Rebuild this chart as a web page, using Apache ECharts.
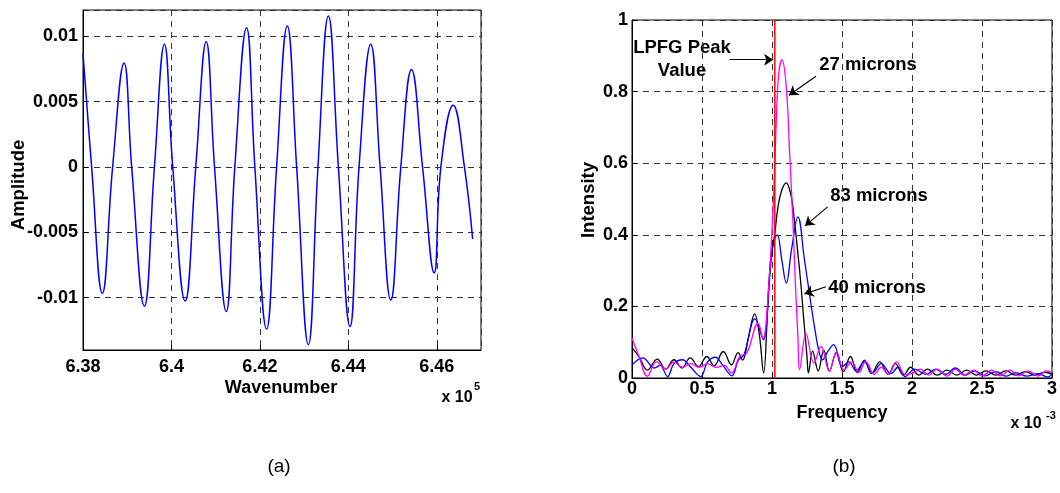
<!DOCTYPE html>
<html><head><meta charset="utf-8">
<script src="https://cdn.jsdelivr.net/npm/echarts@6/dist/echarts.min.js"></script>
<style>html,body{margin:0;padding:0;background:#fff}#c{width:1060px;height:493px}</style>
</head><body><div id="c"></div><script>
// ---------- Panel (a): wavenumber vs amplitude ----------
const WAVENUMBER = [638000,638195,638437,638670,638929,639101,639388,639615,639841,640029,640310,640550,640786,640974,641239,641433,641698,641886,642151,642378,642620,642831,643096,643313,643549,643775,644038,644242,644507,644718,644960,645187,645429,645678,645941,646093,646372,646625,646811];
const AMPLITUDE = [0.00864,0,-0.00967,0,0.00795,0,-0.01064,0,0.00939,0,-0.01026,0,0.00957,0,-0.01106,0,0.01065,0,-0.0124,0,0.01078,0,-0.01359,0,0.01154,0,-0.0122,0,0.00939,0,-0.01018,0,0.00745,0,-0.0081,0,0.00472,0,-0.00551];

// ---------- Panel (b): frequency vs intensity ----------
const MICRONS_40 = [[0,0.084],[0.05,0.06],[0.11,0.022],[0.18,0.053],[0.24,0.025],[0.30,0.051],[0.357,0.028],[0.416,0.056],[0.475,0.032],[0.534,0.06],[0.586,0.034],[0.652,0.074],[0.71,0.037],[0.758,0.071],[0.79,0.05],[0.83,0.11],[0.876,0.179],[0.91,0.12],[0.94,0.014],[0.97,0.2],[0.996,0.34],[1.02,0.404],[1.043,0.478],[1.07,0.525],[1.102,0.545],[1.13,0.52],[1.149,0.478],[1.185,0.348],[1.208,0.255],[1.227,0.163],[1.25,0.06],[1.26,0.014],[1.29,0.075],[1.33,0.02],[1.37,0.078],[1.41,0.02],[1.46,0.07],[1.51,0.018],[1.56,0.06],[1.61,0.015],[1.66,0.05],[1.71,0.012],[1.77,0.045],[1.83,0.01],[1.88,0.04],[1.94,0.008],[1.99,0.03],[2.05,0.008],[2.11,0.025],[2.18,0.008],[2.25,0.022],[2.32,0.008],[2.39,0.022],[2.46,0.008],[2.53,0.02],[2.6,0.008],[2.67,0.02],[2.74,0.008],[2.81,0.018],[2.88,0.008],[2.95,0.016],[3.0,0.01]];
const MICRONS_83 = [[0,0.036],[0.077,0.056],[0.16,0.028],[0.2,0.035],[0.254,0.004],[0.30,0.04],[0.36,0.051],[0.42,0.03],[0.49,0.004],[0.54,0.045],[0.595,0.058],[0.65,0.035],[0.713,0.006],[0.76,0.05],[0.80,0.065],[0.878,0.165],[0.937,0.107],[0.996,0.348],[1.038,0.40],[1.07,0.33],[1.102,0.265],[1.14,0.36],[1.185,0.45],[1.232,0.33],[1.267,0.237],[1.303,0.144],[1.338,0.07],[1.361,0.051],[1.40,0.075],[1.44,0.093],[1.503,0.032],[1.55,0.045],[1.6,0.02],[1.66,0.045],[1.72,0.015],[1.78,0.04],[1.85,0.012],[1.9,0.03],[1.95,0.004],[2.02,0.025],[2.1,0.01],[2.17,0.025],[2.24,0.01],[2.31,0.028],[2.38,0.008],[2.45,0.02],[2.52,0.006],[2.6,0.018],[2.67,0.005],[2.74,0.015],[2.82,0.005],[2.9,0.012],[2.97,0.003],[3.0,0.01]];
const MICRONS_27 = [[0,0.112],[0.05,0.06],[0.11,0.005],[0.175,0.046],[0.24,0.025],[0.30,0.045],[0.36,0.03],[0.42,0.04],[0.48,0.03],[0.54,0.04],[0.6,0.03],[0.66,0.035],[0.71,0.014],[0.77,0.06],[0.82,0.07],[0.90,0.153],[0.935,0.11],[0.975,0.25],[1.008,0.478],[1.031,0.72],[1.048,0.85],[1.071,0.889],[1.102,0.813],[1.126,0.627],[1.149,0.441],[1.168,0.255],[1.185,0.116],[1.197,0.023],[1.243,0.124],[1.30,0.042],[1.35,0.088],[1.41,0.019],[1.46,0.072],[1.515,0.023],[1.57,0.045],[1.62,0.015],[1.67,0.046],[1.73,0.01],[1.78,0.03],[1.83,0.01],[1.89,0.045],[1.95,0.01],[2.0,0.012],[2.06,0.025],[2.12,0.008],[2.18,0.025],[2.25,0.005],[2.31,0.025],[2.37,0.008],[2.44,0.022],[2.5,0.005],[2.57,0.022],[2.63,0.006],[2.7,0.022],[2.76,0.006],[2.83,0.02],[2.9,0.005],[2.96,0.02],[3.0,0.015]];
const LPFG_PEAK = 1.02;
// annotation arrows [fromX, fromY, toX, toY] in data units
const ARROW_LPFG = [0.697,0.889,1.008,0.889];
const ARROW_27 = [1.314,0.843,1.121,0.79];
const ARROW_83 = [1.397,0.478,1.236,0.425];
const ARROW_40 = [1.385,0.255,1.232,0.235];

const FONT = 'Liberation Sans, Arial, sans-serif';
const labelStyle = {color:'#000', fontFamily:FONT, fontWeight:'bold', fontSize:18};
const dashed = {show:true, lineStyle:{color:'#333', type:[6,5], width:1}};
const axisLine = {show:true, onZero:false, lineStyle:{color:'#000', width:1}};
const tick = {show:true, inside:true, length:5, lineStyle:{color:'#000'}};

const chart = echarts.init(document.getElementById('c'));
const arrow = a => [{coord:[a[0],a[1]]},{coord:[a[2],a[3]]}];
const txt = (x,y,text,size,weight,rot) => ({type:'text', x, y, rotation:rot||0, style:{text, fill:'#000', font:(weight||'bold')+' '+size+'px '+FONT, align:'center', verticalAlign:'middle'}});

chart.setOption({
  animation:false,
  backgroundColor:'#fff',
  grid:[
    {left:83, top:10, width:398, height:340, show:true, borderColor:'#000', borderWidth:1, backgroundColor:'transparent'},
    {left:632, top:20, width:425, height:358, show:true, borderColor:'#000', borderWidth:1, backgroundColor:'transparent'}
  ],
  xAxis:[
    {type:'value', gridIndex:0, min:638000, max:647000, interval:2000, axisLine, axisTick:tick, splitLine:dashed,
      axisLabel:Object.assign({margin:8, showMaxLabel:false, formatter:v=>String(parseFloat((v/1e5).toFixed(4)))}, labelStyle)},
    {type:'value', gridIndex:1, min:0, max:3, interval:0.5, axisLine, axisTick:tick, splitLine:dashed,
      axisLabel:Object.assign({margin:2}, labelStyle)}
  ],
  yAxis:[
    {type:'value', gridIndex:0, min:-0.014, max:0.012, splitNumber:5, axisLine, axisTick:tick, splitLine:dashed,
      axisLabel:Object.assign({margin:5, showMinLabel:false, showMaxLabel:false}, labelStyle)},
    {type:'value', gridIndex:1, min:0, max:1, interval:0.2, axisLine, axisTick:tick, splitLine:dashed,
      axisLabel:Object.assign({margin:4}, labelStyle)}
  ],
  series:[
    {type:'line', xAxisIndex:0, yAxisIndex:0, data:WAVENUMBER.map((w,i)=>[w,AMPLITUDE[i]]), smooth:0.45, showSymbol:false,
      lineStyle:{color:'#0000ff', width:1.5}},
    {type:'line', xAxisIndex:1, yAxisIndex:1, data:MICRONS_40, smooth:0.4, showSymbol:false, lineStyle:{color:'#000', width:1.3}},
    {type:'line', xAxisIndex:1, yAxisIndex:1, data:MICRONS_83, smooth:0.4, showSymbol:false, lineStyle:{color:'#0000ff', width:1.3}},
    {type:'line', xAxisIndex:1, yAxisIndex:1, data:MICRONS_27, smooth:0.4, showSymbol:false, lineStyle:{color:'#ff00ff', width:1.3}},
    {type:'line', xAxisIndex:1, yAxisIndex:1, data:[[LPFG_PEAK,0],[LPFG_PEAK,1]], showSymbol:false, lineStyle:{color:'#ff0000', width:1.5},
      markLine:{silent:true, symbol:['none','arrow'], symbolSize:9, label:{show:false},
        lineStyle:{color:'#000', width:1.2, type:'solid'},
        data:[arrow(ARROW_LPFG), arrow(ARROW_27), arrow(ARROW_83), arrow(ARROW_40)]}}
  ],
  graphic:[
    txt(19,185,'Amplitude',18.5,'bold',Math.PI/2),
    txt(281,388,'Wavenumber',18),
    txt(457,398,'x 10',16),
    txt(477,387,'5',11),
    txt(589,200,'Intensity',18.5,'bold',Math.PI/2),
    txt(842,413,'Frequency',18),
    txt(1026,424,'x 10',16),
    txt(1051,416,'-3',11),
    txt(279,467,'(a)',19,'normal'),
    txt(844,467,'(b)',19,'normal'),
    txt(682,48,'LPFG Peak',18.5),
    txt(682,71,'Value',18.5),
    txt(868,65,'27 microns',18.5),
    txt(879,196,'83 microns',18.5),
    txt(877,288,'40 microns',18.5)
  ]
});
</script></body></html>
